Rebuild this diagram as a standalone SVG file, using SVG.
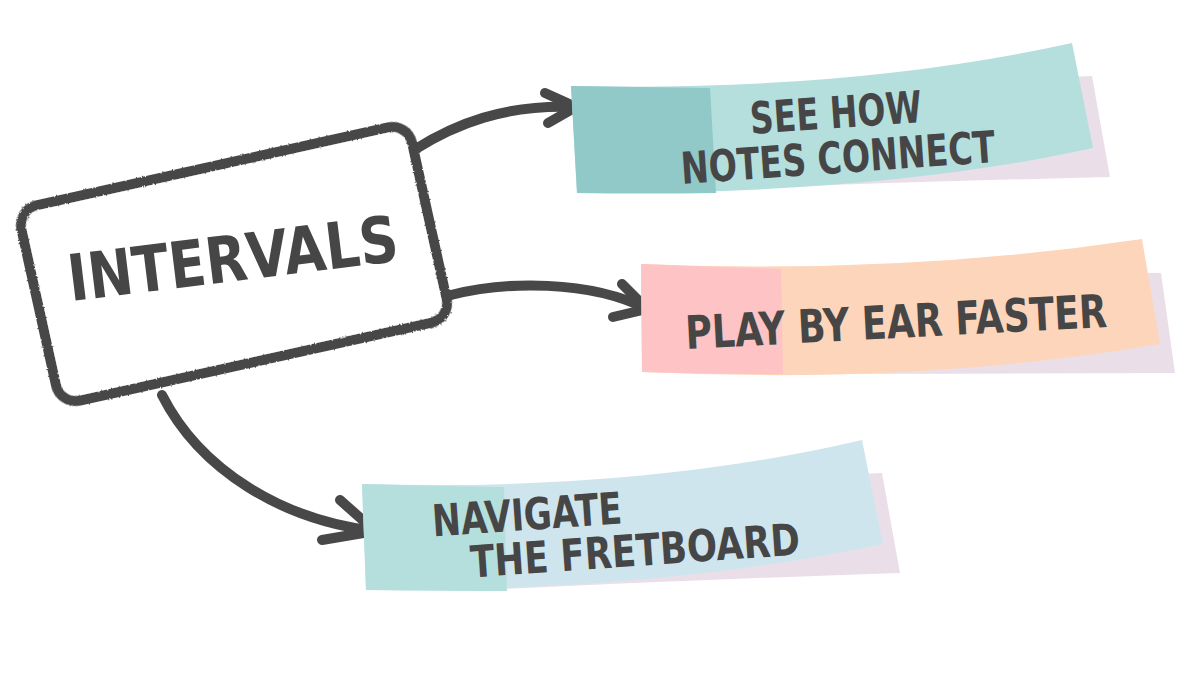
<svg xmlns="http://www.w3.org/2000/svg" width="1200" height="675" viewBox="0 0 1200 675">
  <defs>
    <filter id="rough" x="-5%" y="-5%" width="110%" height="110%">
      <feTurbulence type="fractalNoise" baseFrequency="0.9" numOctaves="2" seed="3" result="n"/>
      <feDisplacementMap in="SourceGraphic" in2="n" scale="3"/>
    </filter>
  </defs>
  <style>
    .lbl { font-family: "Liberation Sans Narrow", "DejaVu Sans Condensed", "Liberation Sans", sans-serif; font-weight: bold; fill: #464646; text-anchor: middle; }
    .conn { fill: none; stroke: #484848; stroke-width: 10; stroke-linecap: round; stroke-linejoin: round; }
    .shadow { fill: #eadfe9; }
  </style>
  <rect width="1200" height="675" fill="#ffffff"/>

  <g id="connectors">
    <path class="conn" d="M414,150 C455,124 505,104 576,107"/>
    <path class="conn" d="M545,93 L576,107 L548,123"/>
    <path class="conn" d="M451,295 C505,281 590,280 647,309"/>
    <path class="conn" d="M622,284 L647,309 L613,317"/>
    <path class="conn" d="M162,395 C200,470 282,520 375,531"/>
    <path class="conn" d="M340,500 L375,531 L322,540"/>
  </g>

  <g id="node-intervals">
    <rect x="34" y="164" width="400" height="200" rx="20" transform="rotate(-12.5 234 264)" fill="#ffffff" stroke="#474747" stroke-width="10" filter="url(#rough)"/>
    <text class="lbl" x="233" y="281" font-size="64" textLength="332" lengthAdjust="spacingAndGlyphs" transform="rotate(-7 233 260)">INTERVALS</text>
  </g>

  <g id="node-see-how">
    <path class="shadow" d="M700,92 L1092,76 L1110,177 Q900,182 700,190 Z"/>
    <path d="M571,86 Q850,92 1072,43 L1093,148 Q880,195 577,193 Z" fill="#b5dfdd"/>
    <path d="M571,86 Q640,87 710,88 L716,193 Q640,194 577,193 Z" fill="#91c9c8"/>
    <text class="lbl" x="836" y="128" font-size="44" textLength="172" lengthAdjust="spacingAndGlyphs" transform="rotate(-4 836 115)">SEE HOW</text>
    <text class="lbl" x="838" y="173" font-size="44" textLength="315" lengthAdjust="spacingAndGlyphs" transform="rotate(-4 838 157)">NOTES CONNECT</text>
  </g>

  <g id="node-play-by-ear">
    <path class="shadow" d="M760,268 L1161,273 L1175,373 Q960,374 760,374 Z"/>
    <path d="M641,264 Q900,275 1142,239 L1160,344 Q920,385 642,372 Z" fill="#fdd5bb"/>
    <path d="M641,264 Q710,267 781,269 L783,374 Q710,374 642,372 Z" fill="#fec3c4"/>
    <text class="lbl" x="896" y="338" font-size="46" textLength="422" lengthAdjust="spacingAndGlyphs" transform="rotate(-3 896 322)">PLAY BY EAR FASTER</text>
  </g>

  <g id="node-navigate">
    <path class="shadow" d="M480,490 L882,473 L900,573 Q690,580 480,590 Z"/>
    <path d="M362,484 Q640,492 862,440 L883,544 Q660,592 366,590 Z" fill="#cfe5ee"/>
    <path d="M362,484 Q434,486 504,487 L507,591 Q434,591 366,590 Z" fill="#b5dfdd"/>
    <text class="lbl" x="527" y="530" font-size="44" textLength="190" lengthAdjust="spacingAndGlyphs" transform="rotate(-4 527 514)">NAVIGATE</text>
    <text class="lbl" x="635" y="566" font-size="44" textLength="330" lengthAdjust="spacingAndGlyphs" transform="rotate(-4 635 550)">THE FRETBOARD</text>
  </g>
</svg>
